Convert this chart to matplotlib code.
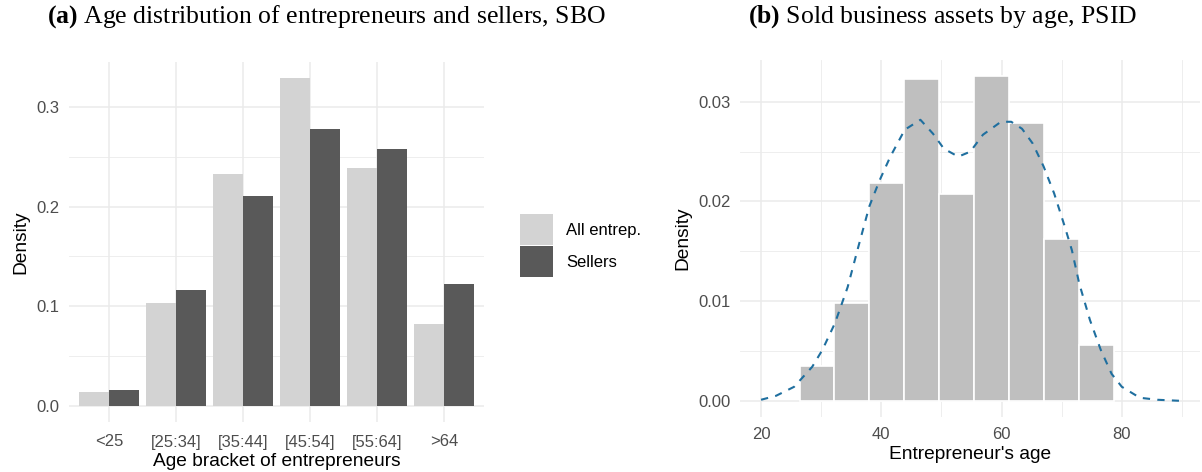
import matplotlib.pyplot as plt
import numpy as np

# panel (a): SBO age brackets
brackets = ["<25", "[25:34]", "[35:44]", "[45:54]", "[55:64]", ">64"]
all_entrep = [0.014, 0.103, 0.233, 0.329, 0.239, 0.082]
sellers = [0.016, 0.116, 0.211, 0.278, 0.258, 0.122]

# panel (b): PSID histogram + density
bin_edges = [26.4, 32.2, 38.0, 43.8, 49.6, 55.4, 61.2, 67.0, 72.9, 78.7]
bin_heights = [0.0035, 0.0098, 0.0219, 0.0323, 0.0208, 0.0326, 0.0279, 0.0162, 0.0056]
dens_age = [20, 22.5, 25.5, 28.5, 30.2, 32.3, 34.4, 36.2, 38.0, 39.7, 41.5, 43.9,
            46.5, 48.6, 50.4, 52.8, 54.8, 56.9, 59.9, 61.6, 63.4, 65.2, 67.0,
            68.75, 70.5, 71.7, 72.9, 74.7, 76.5, 78.3, 80.0, 83.0, 85.9, 89.5]
dens_val = [0.0001, 0.0005, 0.0014, 0.0034, 0.0051, 0.0078, 0.0114, 0.0155, 0.0195,
            0.0221, 0.0245, 0.0272, 0.0282, 0.0268, 0.0253, 0.0245, 0.0250, 0.0267,
            0.0280, 0.0280, 0.0273, 0.0258, 0.0235, 0.0208, 0.0175, 0.0151, 0.0118,
            0.0081, 0.0051, 0.0027, 0.0014, 0.0003, 0.0001, 0.0000]

GRID = "#ebebeb"
TICK = "#4d4d4d"
SANS = ["Liberation Sans", "DejaVu Sans"]
SERIF = ["Liberation Serif", "DejaVu Serif"]

plt.rcParams["font.family"] = SANS
plt.rcParams["mathtext.fontset"] = "custom"
plt.rcParams["mathtext.rm"] = "Liberation Serif"
plt.rcParams["mathtext.bf"] = "Liberation Serif:bold"

fig = plt.figure(figsize=(12.02, 4.72), dpi=100)
ax1 = fig.add_axes([69 / 1202, 1 - 422 / 472, (484 - 69) / 1202, (422 - 62) / 472])
ax2 = fig.add_axes([740 / 1202, 1 - 417 / 472, (1200 - 740) / 1202, (417 - 60) / 472])


def minimal(ax):
    for s in ax.spines.values():
        s.set_visible(False)
    ax.tick_params(which="both", length=0, labelsize=12, labelcolor=TICK)
    ax.set_axisbelow(True)
    ax.grid(which="major", color=GRID, lw=1.1)
    ax.grid(which="minor", color=GRID, lw=0.6)


# ---- (a)
x = np.arange(len(brackets))
w = 0.45
ax1.bar(x - w / 2, all_entrep, w, color="#d3d3d3", label="All entrep.")
ax1.bar(x + w / 2, sellers, w, color="#595959", label="Sellers")
ax1.set_xticks(x)
ax1.set_xticklabels(brackets)
ax1.set_yticks([0, 0.1, 0.2, 0.3])
ax1.set_yticklabels(["0.0", "0.1", "0.2", "0.3"])
ax1.set_yticks([0.05, 0.15, 0.25], minor=True)
ax1.set_xlim(-0.6, 5.6)
ax1.set_ylim(-0.0165, 0.3455)
minimal(ax1)
ax1.grid(axis="x", which="minor", visible=False)
ax1.tick_params(axis="x", pad=9)
ax1.tick_params(axis="y", pad=7)
ax1.set_xlabel("Age bracket of entrepreneurs", fontsize=13.8, labelpad=2.5)
ax1.set_ylabel("Density", fontsize=13.8, labelpad=5)
ax1.legend(loc="center left", bbox_to_anchor=(1.05, 0.49), frameon=False,
           fontsize=12, handlelength=2.0, handleheight=2.5,
           labelspacing=0.05, handletextpad=0.8)
fig.text(47 / 1202, 1 - 17 / 472, r"$\mathbf{(a)}$ Age distribution of entrepreneurs and sellers, SBO",
         fontsize=18.5, family=SERIF, va="center", ha="left")

# ---- (b)
edges = np.array(bin_edges)
ax2.bar(edges[:-1], bin_heights, np.diff(edges), align="edge",
        color="#bfbfbf", edgecolor="white", lw=1.2)
ax2.plot(dens_age, dens_val, color="#1f6f9f", lw=1.5, ls=(0, (3.5, 3.5)))
ax2.set_xticks([20, 40, 60, 80])
ax2.set_xticks([30, 50, 70, 90], minor=True)
ax2.set_yticks([0, 0.01, 0.02, 0.03])
ax2.set_yticklabels(["0.00", "0.01", "0.02", "0.03"])
ax2.set_yticks([0.005, 0.015, 0.025], minor=True)
ax2.set_xlim(16.5, 93.0)
ax2.set_ylim(-0.00163, 0.0342)
minimal(ax2)
ax2.tick_params(axis="x", pad=7)
ax2.tick_params(axis="y", pad=7)
ax2.set_xlabel("Entrepreneur's age", fontsize=13.8, labelpad=3)
ax2.set_ylabel("Density", fontsize=13.8, labelpad=5)
fig.text(943 / 1202, 1 - 17 / 472, r"$\mathbf{(b)}$ Sold business assets by age, PSID",
         fontsize=18.5, family=SERIF, va="center", ha="center")

fig.savefig("out.png", dpi=100)
